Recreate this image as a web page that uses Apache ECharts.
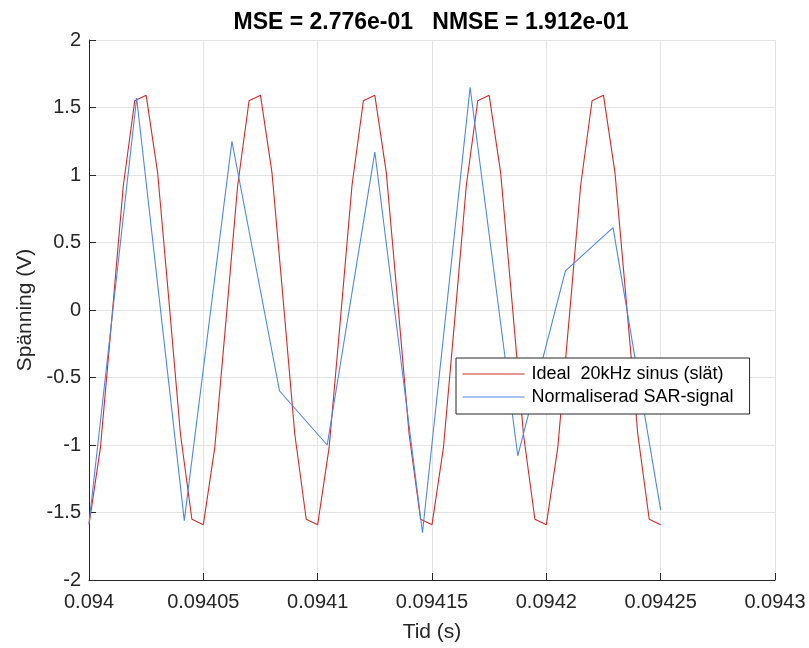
<!DOCTYPE html>
<html>
<head>
<meta charset="utf-8">
<script src="https://cdn.jsdelivr.net/npm/echarts@6/dist/echarts.min.js"></script>
<style>
  html, body { margin: 0; padding: 0; background: #fff; }
  #chart { width: 809px; height: 648px; }
</style>
</head>
<body>
<div id="chart"></div>
<script>
// Sample times (s) of the ideal 20 kHz sine, one sample every 5 µs
const idealTimes = [
  0.094000, 0.094005, 0.094010, 0.094015, 0.094020, 0.094025, 0.094030, 0.094035, 0.094040, 0.094045,
  0.094050, 0.094055, 0.094060, 0.094065, 0.094070, 0.094075, 0.094080, 0.094085, 0.094090, 0.094095,
  0.094100, 0.094105, 0.094110, 0.094115, 0.094120, 0.094125, 0.094130, 0.094135, 0.094140, 0.094145,
  0.094150, 0.094155, 0.094160, 0.094165, 0.094170, 0.094175, 0.094180, 0.094185, 0.094190, 0.094195,
  0.094200, 0.094205, 0.094210, 0.094215, 0.094220, 0.094225, 0.094230, 0.094235, 0.094240, 0.094245,
  0.094250
];
// Ideal sine voltage (V)
const idealValues = [
  -1.59, -1.02, -0.06, 0.92, 1.55, 1.59, 1.02, 0.06, -0.92, -1.55,
  -1.59, -1.02, -0.06, 0.92, 1.55, 1.59, 1.02, 0.06, -0.92, -1.55,
  -1.59, -1.02, -0.06, 0.92, 1.55, 1.59, 1.02, 0.06, -0.92, -1.55,
  -1.59, -1.02, -0.06, 0.92, 1.55, 1.59, 1.02, 0.06, -0.92, -1.55,
  -1.59, -1.02, -0.06, 0.92, 1.55, 1.59, 1.02, 0.06, -0.92, -1.55,
  -1.59
];
// SAR converter sample times (s) and normalised output (V)
const sarTimes = [
  0.094, 0.0940208333, 0.0940416667, 0.0940625, 0.0940833333, 0.0941041667, 0.094125,
  0.0941458333, 0.0941666667, 0.0941875, 0.0942083333, 0.0942291667, 0.09425
];
const sarValues = [
  -1.58, 1.57, -1.56, 1.25, -0.60, -1.00, 1.17, -1.65, 1.65, -1.08, 0.29, 0.61, -1.48
];
// Axis tick labels
const xTickLabels = ['0.094', '0.09405', '0.0941', '0.09415', '0.0942', '0.09425', '0.0943'];
const yTickLabels = ['-2', '-1.5', '-1', '-0.5', '0', '0.5', '1', '1.5', '2'];
const seriesNames = ['Ideal  20kHz sinus (slät)', 'Normaliserad SAR-signal'];
const titleText = 'MSE = 2.776e-01   NMSE = 1.912e-01';

const xMin = 0.094, xMax = 0.0943, xStep = 0.00005;
const yMin = -2, yMax = 2, yStep = 0.5;

const zip = (xs, ys) => xs.map((x, i) => [x, ys[i]]);
const FONT = '"Liberation Sans", Arial, Helvetica, sans-serif';
const INK = '#262626';
const RED = '#d42a2a';
const BLUE = '#4f86f0';
const seriesColors = [RED, BLUE];

const chart = echarts.init(document.getElementById('chart'), null, { renderer: 'canvas' });
chart.setOption({
  animation: false,
  backgroundColor: '#ffffff',
  color: seriesColors,
  title: {
    text: titleText,
    left: 426, top: 6, textAlign: 'center',
    textStyle: { fontFamily: FONT, fontSize: 23, fontWeight: 'bold', color: '#000' }
  },
  grid: { left: 89, right: 34, top: 40, bottom: 68, containLabel: false },
  legend: {
    orient: 'vertical',
    left: 456, top: 358,
    padding: [7, 16, 8, 6],
    itemGap: 5,
    itemWidth: 62, itemHeight: 20,
    backgroundColor: '#ffffff',
    borderColor: INK, borderWidth: 1, borderRadius: 0,
    // keep only the line sample, hide the point symbol
    itemStyle: { opacity: 0 },
    lineStyle: { width: 1 },
    textStyle: { fontFamily: FONT, fontSize: 18, color: '#000', padding: [0, 0, 0, 2] },
    data: seriesNames
  },
  xAxis: {
    type: 'value', min: xMin, max: xMax, interval: xStep,
    name: 'Tid (s)', nameLocation: 'middle', nameGap: 42,
    nameTextStyle: { fontFamily: FONT, fontSize: 21, color: INK },
    axisLine: { show: true, onZero: false, lineStyle: { color: INK, width: 1 } },
    axisTick: { show: true, inside: true, length: 7, lineStyle: { color: INK } },
    axisLabel: {
      fontFamily: FONT, fontSize: 20, color: INK, margin: 12,
      formatter: v => xTickLabels[Math.round((v - xMin) / xStep)] ?? ''
    },
    splitLine: { show: true, lineStyle: { color: '#e3e3e3', width: 1 } }
  },
  yAxis: {
    type: 'value', min: yMin, max: yMax, interval: yStep,
    name: 'Spänning (V)', nameLocation: 'middle', nameGap: 52, nameRotate: 90,
    nameTextStyle: { fontFamily: FONT, fontSize: 21, color: INK },
    axisLine: { show: true, onZero: false, lineStyle: { color: INK, width: 1 } },
    axisTick: { show: true, inside: true, length: 7, lineStyle: { color: INK } },
    axisLabel: {
      fontFamily: FONT, fontSize: 20, color: INK, margin: 8,
      formatter: v => yTickLabels[Math.round((v - yMin) / yStep)] ?? ''
    },
    splitLine: { show: true, lineStyle: { color: '#e3e3e3', width: 1 } }
  },
  series: [
    {
      name: seriesNames[0], type: 'line', data: zip(idealTimes, idealValues),
      symbol: 'none', lineStyle: { color: RED, width: 1.1 }, itemStyle: { color: RED },
      z: 2
    },
    {
      name: seriesNames[1], type: 'line', data: zip(sarTimes, sarValues),
      symbol: 'none', lineStyle: { color: BLUE, width: 1.1 }, itemStyle: { color: BLUE },
      z: 3
    }
  ]
});
</script>
</body>
</html>
